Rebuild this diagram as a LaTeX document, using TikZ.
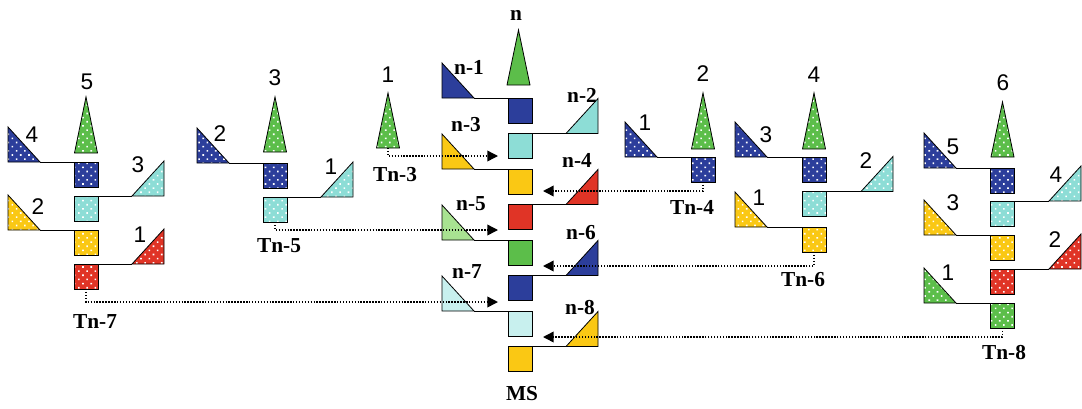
\documentclass[tikz,border=0pt]{standalone}
\usepackage{fontspec}
\setmainfont{Liberation Serif}
\newfontfamily\numfont{Liberation Sans}
\usetikzlibrary{arrows.meta,patterns.meta}
\definecolor{blueC}{RGB}{44,62,155}
\definecolor{greenC}{RGB}{92,190,74}
\definecolor{lgreenC}{RGB}{168,226,145}
\definecolor{cyanC}{RGB}{141,221,214}
\definecolor{lcyanC}{RGB}{200,240,238}
\definecolor{yellowC}{RGB}{250,200,20}
\definecolor{redC}{RGB}{224,52,38}
\tikzset{
  sq/.style={draw=black, line width=0.6pt, minimum width=18pt, minimum height=18.75pt,
    inner sep=0pt, outer sep=0pt, anchor=north west},
  dotfill/.style={preaction={fill=#1}, pattern={Dots[radius=0.85pt,distance=4.4pt,angle=45]}, pattern color=white},
  solidfill/.style={fill=#1},
  tri/.style={draw=black, line width=0.6pt, line join=miter},
  link/.style={draw=black, line width=0.7pt},
  arr/.style={line width=1.1pt, dash pattern=on 1.1pt off 1.1pt, -{Triangle[length=8pt,width=8pt]}},
  numlab/.style={font={\numfont\fontsize{17}{17}\selectfont}, inner sep=0pt},
  blab/.style={font={\bfseries\fontsize{16}{16}\selectfont}, inner sep=0pt}
}
% left triangle: right angle at bottom-left; name = bottom-right corner
\newcommand\LTri[4]{\path[tri,#4] (#2,#3-35) -- (#2,#3) -- (#2+32,#3) -- cycle; \coordinate (#1) at (#2+32,#3);}
% right triangle: right angle at bottom-right; name = bottom-left corner
\newcommand\RTri[4]{\path[tri,#4] (#2,#3-35) -- (#2,#3) -- (#2-32,#3) -- cycle; \coordinate (#1) at (#2-32,#3);}
% tall triangle: apex (cx,ytop), base at yb; name = base centre
\newcommand\TTri[5]{\path[tri,#5] (#2,#3) -- (#2+11.5,#4) -- (#2-11.5,#4) -- cycle; \coordinate (#1) at (#2,#4);}
\begin{document}
\begin{tikzpicture}[x=0.75pt,y=-0.75pt]
\useasboundingbox (0,0) rectangle (1082,408);

% ---------- group Tn-7 ----------
\TTri{g1t}{86}{97}{153}{dotfill=greenC}
\LTri{g1l4}{8}{162}{dotfill=blueC}
\RTri{g1r3}{164}{196}{dotfill=cyanC}
\LTri{g1l2}{8}{230}{dotfill=yellowC}
\RTri{g1r1}{164}{264}{dotfill=redC}
\draw[link] (g1l4) -- (74,162);
\draw[link] (g1r3) -- (98,196);
\draw[link] (g1l2) -- (74,230);
\draw[link] (g1r1) -- (98,264);
\node[sq,dotfill=blueC] (g1a) at (74,162) {};
\node[sq,dotfill=cyanC] (g1b) at (74,196) {};
\node[sq,dotfill=yellowC] (g1c) at (74,230) {};
\node[sq,dotfill=redC] (g1d) at (74,264) {};
\node[numlab] (g1n5) at (87,82) {5};
\node[numlab] (g1n4) at (32,135) {4};
\node[numlab] (g1n3) at (138,165) {3};
\node[numlab] (g1n2) at (38,207) {2};
\node[numlab] (g1n1) at (140,235) {1};
\node[blab] (tn7) at (95,322) {Tn-7};

% ---------- group Tn-5 ----------
\TTri{g2t}{275}{97}{152}{dotfill=greenC}
\LTri{g2l2}{197}{163}{dotfill=blueC}
\RTri{g2r1}{353}{197}{dotfill=cyanC}
\draw[link] (g2l2) -- (263,163);
\draw[link] (g2r1) -- (287,197);
\node[sq,dotfill=blueC] (g2a) at (263,163) {};
\node[sq,dotfill=cyanC] (g2b) at (263,197) {};
\node[numlab] (g2n3) at (275,78) {3};
\node[numlab] (g2n2) at (220,134) {2};
\node[numlab] (g2n1) at (331,167) {1};
\node[blab] (tn5) at (279,246) {Tn-5};

% ---------- group Tn-3 ----------
\TTri{g3t}{388}{93}{148}{dotfill=greenC}
\node[numlab] (g3n1) at (388,75) {1};
\node[blab] (tn3) at (395,175) {Tn-3};

% ---------- main stream ----------
\TTri{ct}{518.5}{30}{85}{solidfill=greenC}
\LTri{cl1}{442}{98}{solidfill=blueC}
\RTri{cr2}{598}{133.5}{solidfill=cyanC}
\LTri{cl3}{442}{169}{solidfill=yellowC}
\RTri{cr4}{598}{204.5}{solidfill=redC}
\LTri{cl5}{442}{240}{solidfill=lgreenC}
\RTri{cr6}{598}{275.5}{solidfill=blueC}
\LTri{cl7}{442}{311}{solidfill=lcyanC}
\RTri{cr8}{598}{346.5}{solidfill=yellowC}
\node[sq,fill=blueC] (c1) at (508,98) {};
\node[sq,fill=cyanC] (c2) at (508,133.5) {};
\node[sq,fill=yellowC] (c3) at (508,169) {};
\node[sq,fill=redC] (c4) at (508,204.5) {};
\node[sq,fill=greenC] (c5) at (508,240) {};
\node[sq,fill=blueC] (c6) at (508,275.5) {};
\node[sq,fill=lcyanC] (c7) at (508,311) {};
\node[sq,fill=yellowC] (c8) at (508,346.5) {};
\draw[link] (cl1) -- (c1.north west);
\draw[link] (cr2) -- (c2.north east);
\draw[link] (cl3) -- (c3.north west);
\draw[link] (cr4) -- (c4.north east);
\draw[link] (cl5) -- (c5.north west);
\draw[link] (cr6) -- (c6.north east);
\draw[link] (cl7) -- (c7.north west);
\draw[link] (cr8) -- (c8.north east);
\node[blab] (ln) at (516,15) {n};
\node[blab] (ln1) at (469,67) {n-1};
\node[blab] (ln2) at (582,95) {n-2};
\node[blab] (ln3) at (466,125) {n-3};
\node[blab] (ln4) at (577,160) {n-4};
\node[blab] (ln5) at (471,204) {n-5};
\node[blab] (ln6) at (581,233) {n-6};
\node[blab] (ln7) at (467,272) {n-7};
\node[blab] (ln8) at (580,308) {n-8};
\node[blab] (ms) at (522,394) {MS};

% ---------- group Tn-4 ----------
\TTri{h1t}{703}{93}{149}{dotfill=greenC}
\LTri{h1l1}{625}{157}{dotfill=blueC}
\draw[link] (h1l1) -- (691,157);
\node[sq,dotfill=blueC] (h1a) at (691,157) {};
\node[numlab] (h1n2) at (703,74) {2};
\node[numlab] (h1n1) at (645,123) {1};
\node[blab] (tn4) at (692,207) {Tn-4};

% ---------- group Tn-6 ----------
\TTri{k1t}{814}{93}{149}{dotfill=greenC}
\LTri{k1l3}{735}{157}{dotfill=blueC}
\RTri{k1r2}{893}{191.5}{dotfill=cyanC}
\LTri{k1l1}{735}{227}{dotfill=yellowC}
\draw[link] (k1l3) -- (802,157);
\draw[link] (k1r2) -- (826,191.5);
\draw[link] (k1l1) -- (802,227);
\node[sq,dotfill=blueC] (k1a) at (802,157) {};
\node[sq,dotfill=cyanC] (k1b) at (802,191.5) {};
\node[sq,dotfill=yellowC] (k1c) at (802,227) {};
\node[numlab] (k1n4) at (814,75) {4};
\node[numlab] (k1n3) at (766,135) {3};
\node[numlab] (k1n2) at (866,161) {2};
\node[numlab] (k1n1) at (759,198) {1};
\node[blab] (tn6) at (803,280) {Tn-6};

% ---------- group Tn-8 ----------
\TTri{m1t}{1002.5}{102}{157}{dotfill=greenC}
\LTri{m1l5}{924}{168}{dotfill=blueC}
\RTri{m1r4}{1081}{201}{dotfill=cyanC}
\LTri{m1l3}{924}{235}{dotfill=yellowC}
\RTri{m1r2}{1081}{269}{dotfill=redC}
\LTri{m1l1}{924}{303}{dotfill=greenC}
\draw[link] (m1l5) -- (990.5,168);
\draw[link] (m1r4) -- (1014.5,201);
\draw[link] (m1l3) -- (990.5,235);
\draw[link] (m1r2) -- (1014.5,269);
\draw[link] (m1l1) -- (990.5,303);
\node[sq,dotfill=blueC] (m1a) at (990.5,168) {};
\node[sq,dotfill=cyanC] (m1b) at (990.5,201) {};
\node[sq,dotfill=yellowC] (m1c) at (990.5,235) {};
\node[sq,dotfill=redC] (m1d) at (990.5,269) {};
\node[sq,dotfill=greenC] (m1e) at (990.5,303) {};
\node[numlab] (m1n6) at (1003,83) {6};
\node[numlab] (m1n5) at (953,147) {5};
\node[numlab] (m1n4) at (1056,175) {4};
\node[numlab] (m1n3) at (953,203) {3};
\node[numlab] (m1n2) at (1055,240) {2};
\node[numlab] (m1n1) at (948,273) {1};
\node[blab] (tn8) at (1004,353) {Tn-8};

% ---------- dotted arrows ----------
\coordinate (e3) at (498,156);
\coordinate (e5) at (498,230);
\coordinate (e7) at (498,302);
\coordinate (w4) at (543,191);
\coordinate (w6) at (543,266);
\coordinate (w8) at (543,337);
\draw[arr] (g3t) |- (e3);
\draw[arr] (g2b.south) |- (e5);
\draw[arr] (g1d.south) |- (e7);
\draw[arr] (h1a.south) |- (w4);
\draw[arr] (k1c.south) |- (w6);
\draw[arr] (m1e.south) |- (w8);
\end{tikzpicture}
\end{document}
